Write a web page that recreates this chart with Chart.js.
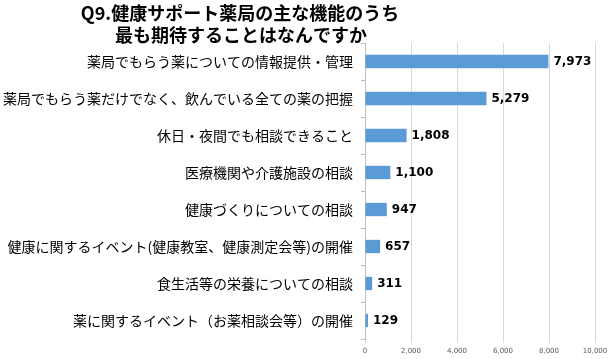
<!DOCTYPE html>
<html>
<head>
<meta charset="utf-8">
<script src="https://cdn.jsdelivr.net/npm/chart.js@4/dist/chart.umd.min.js"></script>
<style>
  html, body { margin: 0; padding: 0; background: #fff; }
  #wrap { width: 612px; height: 359px; }
</style>
</head>
<body>
<div id="wrap"><canvas id="chart" width="612" height="359"></canvas></div>
<script>
const titleLines = ["Q9.健康サポート薬局の主な機能のうち", "最も期待することはなんですか"];
const categories = [
  "薬局でもらう薬についての情報提供・管理",
  "薬局でもらう薬だけでなく、飲んでいる全ての薬の把握",
  "休日・夜間でも相談できること",
  "医療機関や介護施設の相談",
  "健康づくりについての相談",
  "健康に関するイベント(健康教室、健康測定会等)の開催",
  "食生活等の栄養についての相談",
  "薬に関するイベント（お薬相談会等）の開催"
];
const counts = [7973, 5279, 1808, 1100, 947, 657, 311, 129];
const xTicks = [0, 2000, 4000, 6000, 8000, 10000];

// title drawn off-centre, like the original sheet
const titlePlugin = {
  id: "sheetTitle",
  afterDraw(chart) {
    const c = chart.ctx;
    c.save();
    c.font = "bold 18px 'Noto Sans CJK JP'";
    c.fillStyle = "#000";
    c.textAlign = "center";
    c.textBaseline = "middle";
    c.fillText(titleLines[0], 240, 13);
    c.fillText(titleLines[1], 241, 35);
    c.restore();
  }
};

// value labels at the end of each bar
const valueLabels = {
  id: "valueLabels",
  afterDatasetsDraw(chart) {
    const c = chart.ctx;
    c.save();
    c.font = "bold 12px 'DejaVu Sans'";
    c.fillStyle = "#000";
    c.textBaseline = "middle";
    chart.getDatasetMeta(0).data.forEach((bar, i) => {
      c.fillText(counts[i].toLocaleString("en-US"), bar.x + 5, bar.y);
    });
    c.restore();
  }
};

new Chart(document.getElementById("chart").getContext("2d"), {
  type: "bar",
  data: {
    labels: categories,
    datasets: [{
      data: counts,
      backgroundColor: "#5B9BD5",
      barPercentage: 0.36,
      categoryPercentage: 1
    }]
  },
  options: {
    indexAxis: "y",
    responsive: false,
    animation: false,
    layout: { padding: { top: 43, right: 17, left: 0, bottom: 0 } },
    plugins: {
      legend: { display: false },
      title: { display: false },
      tooltip: { enabled: false }
    },
    scales: {
      x: {
        min: 0,
        max: 10000,
        afterBuildTicks: (axis) => { axis.ticks = xTicks.map(v => ({ value: v })); },
        afterFit: (axis) => { axis.height = 20; },
        border: { display: false },
        grid: { color: "#d9d9d9", tickLength: 4 },
        ticks: {
          color: "#595959",
          font: { family: "DejaVu Sans", size: 7 },
          padding: 4,
          maxRotation: 0,
          callback: (v) => v.toLocaleString("en-US")
        }
      },
      y: {
        afterFit: (axis) => { axis.width = 365; },
        border: { display: true, color: "#bfbfbf" },
        grid: { drawOnChartArea: false, color: "#bfbfbf", tickLength: 4, offset: true },
        ticks: {
          color: "#000",
          font: { family: "'Noto Sans CJK JP'", size: 14 },
          padding: 8
        }
      }
    }
  },
  plugins: [titlePlugin, valueLabels]
});
</script>
</body>
</html>
